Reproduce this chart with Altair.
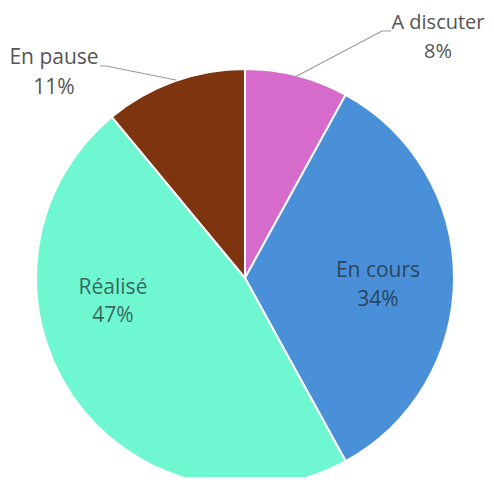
import altair as alt
import pandas as pd

categories = ["A discuter", "En cours", "Réalisé", "En pause"]
values = [8, 34, 47, 11]
colors = ["#D76BCB", "#4A90D9", "#6FF7D2", "#7F3410"]

df = pd.DataFrame({"cat": categories, "value": values, "idx": list(range(len(categories)))})
df["pct"] = [f"{v}%" for v in values]

W, H = 478, 469
CX, CY, R = 237, 270, 209

pie = alt.Chart(df).mark_arc(radius=R, stroke="white", strokeWidth=2).encode(
    theta=alt.Theta("value:Q", stack=True),
    color=alt.Color("cat:N", scale=alt.Scale(domain=categories, range=colors), legend=None),
    order=alt.Order("idx:Q"),
    x=alt.value(CX),
    y=alt.value(CY),
)

# label placement (annotation positions)
label_pos = {
    "A discuter": (430, 15, 44, "outside", 20),
    "En cours": (370, 263, 292, "inside", 21),
    "Réalisé": (105, 280, 308, "inside", 21),
    "En pause": (46, 50, 80, "outside", 21),
}

layers = [pie]
for cat, pct in zip(df["cat"], df["pct"]):
    x, y1, y2, kind, fs = label_pos[cat]
    sub = df[df["cat"] == cat]
    if kind == "inside":
        col, op = "#1a1a1a", 0.65
    else:
        col, op = "#555555", 1.0
    for field, yy in (("cat", y1), ("pct", y2)):
        layers.append(
            alt.Chart(sub).mark_text(
                font="Open Sans", fontSize=fs, color=col, opacity=op,
                align="center", baseline="middle",
            ).encode(text=f"{field}:N", x=alt.value(x), y=alt.value(yy))
        )

lines = pd.DataFrame({
    "g": ["a", "a", "a", "p", "p", "p"],
    "o": [0, 1, 2, 0, 1, 2],
    "px": [287, 374, 383, 168, 98, 92],
    "py": [69, 23, 23, 72, 58, 58],
})
leader = alt.Chart(lines).mark_line(color="#999999", strokeWidth=1.2).encode(
    x=alt.X("px:Q", scale=alt.Scale(domain=[0, W], range=[0, W]), axis=None),
    y=alt.Y("py:Q", scale=alt.Scale(domain=[0, H], range=[0, H]), axis=None),
    detail="g:N",
    order="o:Q",
)
layers.append(leader)

chart = alt.layer(*layers).properties(
    width=W, height=H, padding=0, autosize=alt.AutoSizeParams(type="none")
).configure_view(stroke=None).resolve_scale(color="independent")

chart.save("out.html", embed_options={"renderer": "svg", "actions": False})
